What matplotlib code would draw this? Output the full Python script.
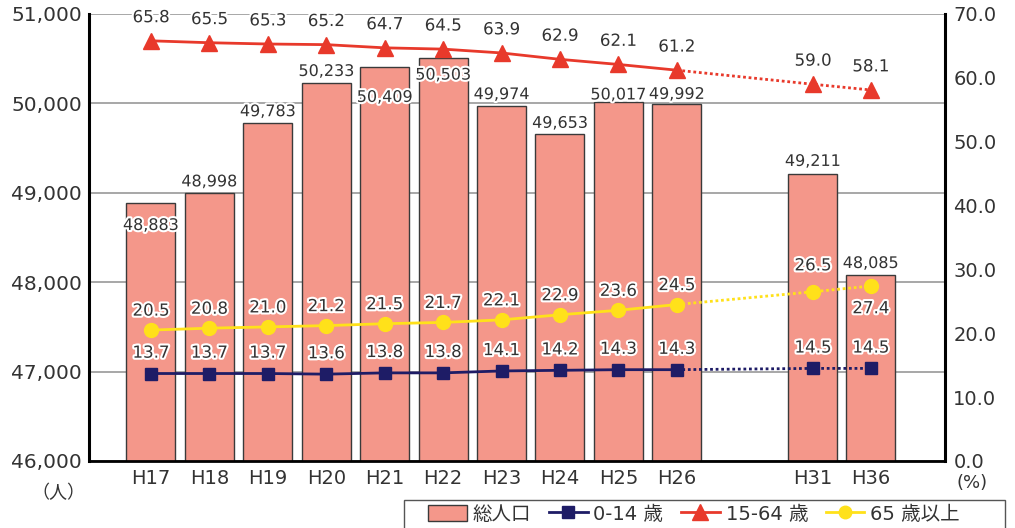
import matplotlib.pyplot as plt
import matplotlib.patheffects as pe
from matplotlib.patches import Rectangle
from matplotlib.ticker import FuncFormatter, MultipleLocator, FixedLocator

plt.rcParams['font.family'] = ['DejaVu Sans', 'Noto Sans CJK JP']

years = ['H17', 'H18', 'H19', 'H20', 'H21', 'H22', 'H23', 'H24', 'H25', 'H26', 'H31', 'H36']
total_pop = [48883, 48998, 49783, 50233, 50409, 50503, 49974, 49653, 50017, 49992, 49211, 48085]
age_0_14 = [13.7, 13.7, 13.7, 13.6, 13.8, 13.8, 14.1, 14.2, 14.3, 14.3, 14.5, 14.5]
age_15_64 = [65.8, 65.5, 65.3, 65.2, 64.7, 64.5, 63.9, 62.9, 62.1, 61.2, 59.0, 58.1]
age_65 = [20.5, 20.8, 21.0, 21.2, 21.5, 21.7, 22.1, 22.9, 23.6, 24.5, 26.5, 27.4]

# forecast years sit a bit further right
xpos = [0, 1, 2, 3, 4, 5, 6, 7, 8, 9, 11.33, 12.32]
n_actual = 10

# label offsets (points) from the bar top
bar_lbl_off = [-16, 8, 8, 8, -22, -12, 8, 8, 5, 7, 9, 8]

bar_col = '#F4978A'
red = '#E8392B'
navy = '#1E1C66'
yellow = '#FFE11A'
txt_col = '#333333'
halo = [pe.withStroke(linewidth=3, foreground='white')]

fig = plt.figure(figsize=(10.15, 5.28), dpi=100)
ax = fig.add_axes([0.0877, 0.1269, 0.8433, 0.8466])
ax2 = ax.twinx()

bars = ax.bar(xpos, total_pop, width=0.84, color=bar_col, edgecolor='#3a3a3a', linewidth=1.0, zorder=2)
ax.set_ylim(46000, 51000)
ax.set_xlim(-1.06, 13.59)
ax.yaxis.set_major_locator(MultipleLocator(1000))
ax.yaxis.set_major_formatter(FuncFormatter(lambda v, p: f'{int(v):,}'))
ax.yaxis.set_minor_locator(FixedLocator([50000]))
ax.grid(axis='y', which='major', color='#a0a0a0', linewidth=1.3, zorder=0)
ax.set_axisbelow(True)
ax.set_xticks(xpos)
ax.set_xticklabels(years, fontsize=14, color=txt_col)
ax.tick_params(axis='both', which='major', length=0, pad=6)
ax.tick_params(axis='y', which='major', labelsize=14.5, labelcolor=txt_col, pad=5)
ax.tick_params(axis='y', which='minor', direction='in', length=9, width=2.2, color='black')

for x, v, off in zip(xpos, total_pop, bar_lbl_off):
    ax.annotate(f'{v:,}', (x, v), xytext=(0, off), textcoords='offset points',
                ha='center', va='center', fontsize=11.5, color=txt_col,
                path_effects=halo, zorder=5)

ax.spines['top'].set_visible(False)
ax2.spines['top'].set_visible(False)
ax.spines['left'].set_linewidth(2.2)
ax.spines['bottom'].set_linewidth(2.0)
ax2.spines['right'].set_linewidth(2.2)
ax2.spines['left'].set_visible(False)
ax2.spines['bottom'].set_visible(False)

ax2.set_ylim(0, 70)
ax2.yaxis.set_major_locator(MultipleLocator(10))
ax2.yaxis.set_major_formatter(FuncFormatter(lambda v, p: f'{v:.1f}'))
ax2.tick_params(axis='y', length=0, labelsize=14, labelcolor=txt_col, pad=6)

series = [
    (age_0_14, navy, 's', 9, 15),
    (age_15_64, red, '^', 11, 17),
    (age_65, yellow, 'o', 10, 14),
]
for vals, col, mk, ms, off in series:
    ax2.plot(xpos[:n_actual], vals[:n_actual], color=col, linewidth=2.0, zorder=4)
    ax2.plot(xpos[n_actual - 1:], vals[n_actual - 1:], color=col, linewidth=2.0,
             linestyle=(0, (1, 1)), zorder=4)
    ax2.plot(xpos, vals, linestyle='none', marker=mk, markersize=ms, color=col, zorder=5)
    for i, (x, v) in enumerate(zip(xpos, vals)):
        dy = off
        if vals is age_65 and i == len(vals) - 1:
            dy = -16
        if vals is age_65 and i == len(vals) - 2:
            dy = 19
        ax2.annotate(f'{v:.1f}', (x, v), xytext=(0, dy), textcoords='offset points',
                     ha='center', va='center', fontsize=12, color=txt_col,
                     path_effects=halo, zorder=6)

fig.text(0.058, 0.066, '（人）', ha='center', va='center', fontsize=13, color=txt_col)
fig.text(0.958, 0.086, '(%)', ha='center', va='center', fontsize=13, color=txt_col)

# legend frame runs off the bottom edge
fig.patches.append(Rectangle((404 / 1015, -0.05), 601 / 1015, 0.05 + 28 / 528,
                             transform=fig.transFigure, facecolor='white',
                             edgecolor='#555555', linewidth=1.0, zorder=1))

handles = [
    Rectangle((0, 0), 1, 1, facecolor=bar_col, edgecolor='#3a3a3a', linewidth=1.0),
    plt.Line2D([], [], color=navy, marker='s', markersize=9, linewidth=2),
    plt.Line2D([], [], color=red, marker='^', markersize=11, linewidth=2),
    plt.Line2D([], [], color=yellow, marker='o', markersize=9, linewidth=2),
]
labels = ['総人口', '0-14 歳', '15-64 歳', '65 歳以上']
leg = fig.legend(handles, labels, loc='center left', bbox_to_anchor=(428 / 1015, 14 / 528),
                 ncol=4, frameon=False, fontsize=14,
                 handlelength=2.0, handleheight=0.9, handletextpad=0.3, columnspacing=0.9,
                 borderpad=0, borderaxespad=0, labelcolor=txt_col)
leg.set_zorder(3)

fig.savefig('out.png', dpi=100)
